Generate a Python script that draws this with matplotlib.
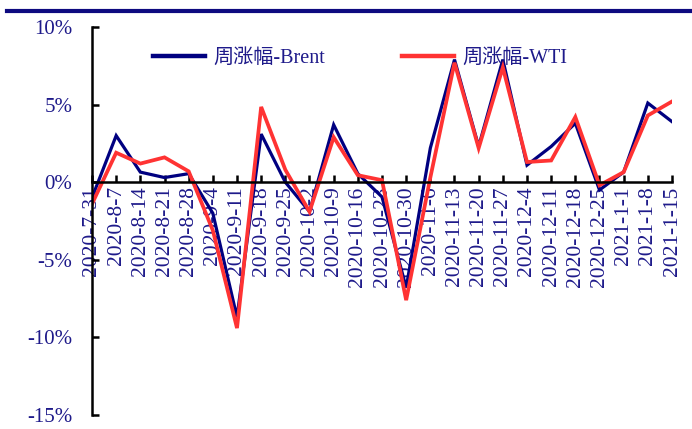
import matplotlib
matplotlib.use("Agg")
import matplotlib.pyplot as plt
from matplotlib.lines import Line2D

dates = ["2020-7-31", "2020-8-7", "2020-8-14", "2020-8-21", "2020-8-28", "2020-9-4",
         "2020-9-11", "2020-9-18", "2020-9-25", "2020-10-2", "2020-10-9", "2020-10-16",
         "2020-10-23", "2020-10-30", "2020-11-6", "2020-11-13", "2020-11-20", "2020-11-27",
         "2020-12-4", "2020-12-11", "2020-12-18", "2020-12-25", "2021-1-1", "2021-1-8",
         "2021-1-15"]
brent = [-1.0, 3.0, 0.65, 0.3, 0.55, -2.0, -8.7, 3.1, 0.0, -1.9, 3.7, 0.55,
         -0.95, -6.8, 2.2, 7.9, 2.3, 7.9, 1.1, 2.3, 3.8, -0.5, 0.65, 5.1, 3.9]
wti = [-1.4, 1.9, 1.2, 1.6, 0.7, -3.1, -9.4, 4.85, 0.8, -1.9, 2.9, 0.45,
       0.13, -7.6, 0.3, 7.7, 2.2, 7.4, 1.3, 1.4, 4.2, -0.2, 0.65, 4.3, 5.2]
yticks = [-15, -10, -5, 0, 5, 10]

txt_color = "#1e1a8a"
fonts = ["Liberation Serif", "Noto Sans CJK SC", "DejaVu Sans"]
plt.rcParams["font.family"] = fonts

fig = plt.figure(figsize=(6.92, 4.29), dpi=100)
ax = fig.add_axes([92/692, 1-415/429, 580/692, (415-27)/429])

x = list(range(len(dates)))
ax.plot(x, brent, color="#000080", lw=2.3, label="周涨幅-Brent", solid_joinstyle="miter")
ax.plot(x, wti, color="#ff3333", lw=2.7, label="周涨幅-WTI", solid_joinstyle="miter")

ax.set_xlim(0, len(dates)-1)
ax.set_ylim(-15, 10)
ax.set_yticks(yticks)
ax.set_yticklabels([f"{v}%" for v in yticks])
ax.set_xticks(x)
ax.set_xticklabels(dates)

for s in ["top", "right"]:
    ax.spines[s].set_visible(False)
ax.spines["bottom"].set_position(("data", 0))
ax.spines["left"].set_linewidth(1.8)
ax.spines["bottom"].set_linewidth(1.8)
ax.tick_params(axis="y", direction="in", length=5, width=1.8, pad=14,
               labelsize=15, labelcolor=txt_color)
ax.tick_params(axis="x", direction="in", length=5, width=1.8, pad=3,
               labelsize=15.5, labelcolor=txt_color, labelrotation=90)

leg = ax.legend(loc="upper center", bbox_to_anchor=(0.462, 0.99), ncol=2, frameon=False,
                fontsize=14.5, handlelength=2.6, columnspacing=3.8, handletextpad=0.4)
for t in leg.get_texts():
    t.set_color(txt_color)
for h in leg.get_lines():
    h.set_linewidth(3.2)

fig.add_artist(Line2D([7/692, 1.0], [1-11/429, 1-11/429], color="#0d0a80", lw=3,
                      transform=fig.transFigure))

fig.savefig("out.png", dpi=100)
